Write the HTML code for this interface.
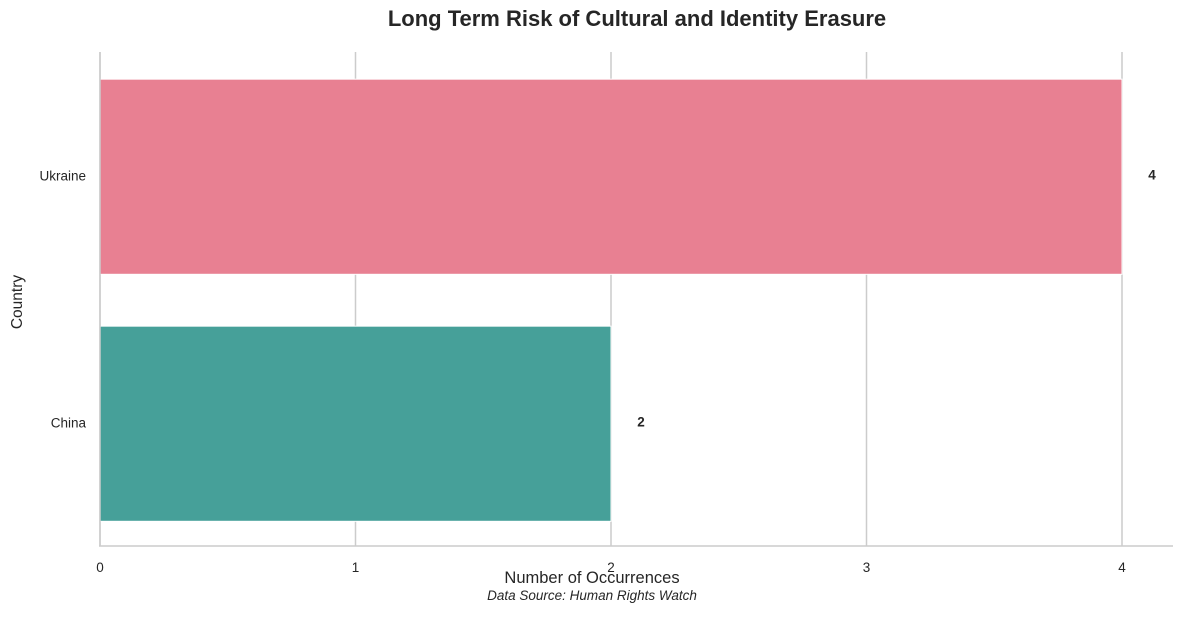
<!DOCTYPE html>
<html><head><meta charset="utf-8"><style>
body{margin:0;background:#fff;}
svg text{font-family:"Liberation Sans",sans-serif;fill:#262626;}
</style></head><body>
<svg width="1184" height="613" xmlns="http://www.w3.org/2000/svg">
<g id="grid"></g>
<g id="bars"></g>
<line x1="100" y1="52" x2="100" y2="546" stroke="#cccccc" stroke-width="1.5"/>
<line x1="99" y1="546" x2="1173" y2="546" stroke="#cccccc" stroke-width="1.5"/>
<g id="ticks"></g>
<text x="637" y="26" text-anchor="middle" font-size="22" font-weight="bold">Long Term Risk of Cultural and Identity Erasure</text>
<text x="592" y="583" text-anchor="middle" font-size="16.5">Number of Occurrences</text>
<text x="592" y="600" text-anchor="middle" font-size="13.5" font-style="italic">Data Source: Human Rights Watch</text>
<text x="22" y="302" text-anchor="middle" font-size="15.5" transform="rotate(-90 22 302)">Country</text>
</svg>
<script>
const categories = ["Ukraine", "China"];
const values = [4, 2];
const colors = ["#e88092", "#46a099"];
const xTicks = [0, 1, 2, 3, 4];
const NS = "http://www.w3.org/2000/svg";
const x = v => 100 + v * 255.5;
const bandTop = 52, band = 247;
const y = i => bandTop + i * band;
const grid = document.getElementById('grid'), bars = document.getElementById('bars'), ticks = document.getElementById('ticks');
function mk(tag, attrs, parent) { const e = document.createElementNS(NS, tag); for (const k in attrs) e.setAttribute(k, attrs[k]); parent.appendChild(e); return e; }
xTicks.forEach(t => {
  const l = mk('line', {x1: x(t), x2: x(t), y1: 52, y2: 546, stroke: '#cccccc', 'stroke-width': 1.5}, grid);
  
  
  const tx = mk('text', {x: x(t), y: 572, 'text-anchor': 'middle', 'font-size': 13.5}, ticks);
  tx.textContent = t;
  
  
});
categories.forEach((c, i) => {
  const top = y(i) + band * 0.11, h = band * 0.79;
  const r = mk('rect', {x: x(0), y: top, width: x(values[i]) - x(0), height: h, fill: colors[i], stroke: '#fff', 'stroke-width': 1}, bars);
  
  
  const cy = y(i) + band / 2;
  const lb = mk('text', {x: 86, y: cy + 5, 'text-anchor': 'end', 'font-size': 13.5}, ticks);
  lb.textContent = c;
  
  
  const vl = mk('text', {x: x(values[i]) + 30, y: cy + 4, 'text-anchor': 'middle', 'font-size': 13.5, 'font-weight': 'bold'}, ticks);
  vl.textContent = values[i];
  
  
});
</script>
</body></html>
